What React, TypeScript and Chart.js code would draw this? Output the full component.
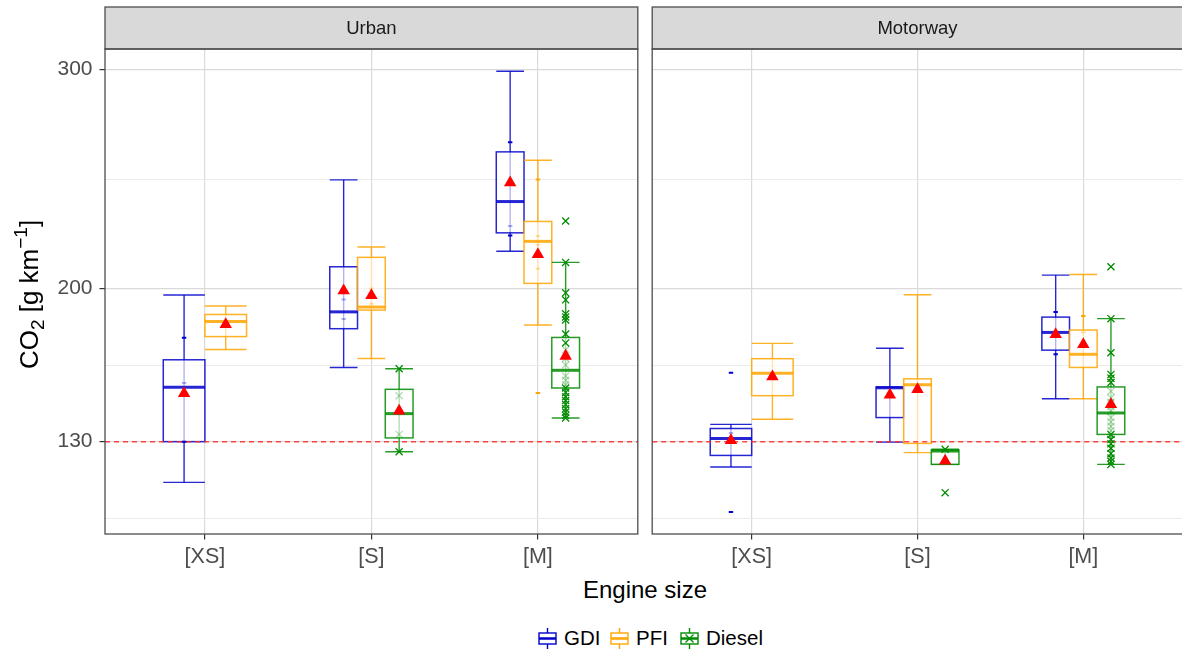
import React, { useEffect, useRef } from 'react';
import { Chart, registerables } from 'chart.js';

Chart.register(...registerables);

const FONT = "'Liberation Sans', Arial, sans-serif";

const categories = ['[XS]', '[S]', '[M]'];
const fuels = ['GDI', 'PFI', 'Diesel'];
const fuelColors = ['rgb(0,0,205)', 'rgb(255,165,0)', 'rgb(0,139,0)'];
const fuelFaintColors = ['rgba(0,0,205,0.3)', 'rgba(255,165,0,0.35)', 'rgba(0,139,0,0.3)'];
const facets = ['Urban', 'Motorway'];
const yMajorTicks = [130, 200, 300];
const yMinorTicks = [95, 165, 250];
const yRange = [87.8, 309.4];
const referenceLine = 130;

// five-number summaries: [lower whisker, Q1, median, Q3, upper whisker] per engine size
const urbanGDI = [[111.4, 130, 154.8, 167.4, 197.0], [163.9, 181.6, 189.3, 209.9, 249.6], [217, 225.4, 239.7, 262.4, 299.2]];
const urbanPFI = [[172.1, 178, 184.9, 188.1, 192], [168, 190.1, 191.5, 214.2, 218.9], [183.3, 202.3, 221.5, 230.6, 258.6]];
const urbanDiesel = [null, [125.4, 131.7, 142.8, 153.9, 163.3], [140.8, 154.5, 162.6, 177.6, 211.9]];
const urbanGDIMean = [152, 199, 248.3];
const urbanPFIMean = [183.6, 196.8, 215.5];
const urbanDieselMean = [null, 144, 169.1];
const urbanGDIPoints = [[177.5, 130], [], [266.8, 224.2]];
const urbanPFIPoints = [[], [], [249.8, 152.2]];
const urbanDieselPoints = [[], [163.3, 125.4], [230.8, 211.9, 198, 194.8, 188.4, 187, 185.6, 179.2, 175.1, 154.5, 152.5, 150.5, 148.8, 147, 145, 143.5, 142, 140.8]];
const urbanGDIFaint = [[156.8], [195, 186], [248, 228.5]];
const urbanPFIFaint = [[], [200, 193], [224, 220, 209]];
const urbanDieselFaint = [[], [151, 133.3], [172, 168, 165, 160, 158, 156]];

const motorwayGDI = [[118.4, 123.7, 131.4, 136, 137.9], [129.8, 141, 154.6, 155, 172.7], [149.6, 171.8, 179.9, 186.9, 206.1]];
const motorwayPFI = [[140.2, 151, 161.3, 167.9, 174.9], [125, 129.2, 156, 158.7, 197.1], [149.6, 163.9, 169.9, 181, 206.4]];
const motorwayDiesel = [null, [119.6, 119.6, 125.7, 126.2, 126.5], [119.6, 133.3, 143.1, 155, 186.2]];
const motorwayGDIMean = [130.6, 151.3, 179];
const motorwayPFIMean = [159.7, 153.9, 174.4];
const motorwayDieselMean = [null, 121.2, 147];
const motorwayGDIPoints = [[161.5, 97.9], [], [189.2, 169.9]];
const motorwayPFIPoints = [[], [], [187.4]];
const motorwayDieselPoints = [[], [126.5, 106.7], [209.9, 186.2, 170.6, 160.7, 159, 157, 133.3, 131, 129, 127, 124.5, 122.5, 121, 119.6]];
const motorwayGDIFaint = [[134], [], []];
const motorwayPFIFaint = [[], [], [180, 170]];
const motorwayDieselFaint = [[], [], [153, 150, 148, 146, 144, 141, 139, 137, 135]];

type Summary = number[] | null;

interface PanelSpec {
  title: string;
  summaries: Summary[][];
  means: (number | null)[][];
  points: number[][][];
  faint: number[][][];
  showYAxis: boolean;
}

const specs: PanelSpec[] = [
  {
    title: facets[0],
    summaries: [urbanGDI, urbanPFI, urbanDiesel],
    means: [urbanGDIMean, urbanPFIMean, urbanDieselMean],
    points: [urbanGDIPoints, urbanPFIPoints, urbanDieselPoints],
    faint: [urbanGDIFaint, urbanPFIFaint, urbanDieselFaint],
    showYAxis: true,
  },
  {
    title: facets[1],
    summaries: [motorwayGDI, motorwayPFI, motorwayDiesel],
    means: [motorwayGDIMean, motorwayPFIMean, motorwayDieselMean],
    points: [motorwayGDIPoints, motorwayPFIPoints, motorwayDieselPoints],
    faint: [motorwayGDIFaint, motorwayPFIFaint, motorwayDieselFaint],
    showYAxis: false,
  },
];

function dodge(summaries: Summary[][], c: number, f: number) {
  const present = summaries.map((s, i) => (s[c] ? i : -1)).filter((i) => i >= 0);
  const n = present.length;
  const k = present.indexOf(f);
  const w = 0.5 / n;
  return { off: (k - (n - 1) / 2) * w, w };
}

const isMajor = (v: number) => yMajorTicks.includes(v);

function makePlugin(spec: PanelSpec) {
  return {
    id: 'boxpanel',
    beforeDatasetsDraw(chart: any) {
      const { ctx, chartArea, scales } = chart;
      const xs = scales.x;
      const ys = scales.y;
      ctx.save();
      spec.summaries.forEach((arr, f) => {
        arr.forEach((s, c) => {
          if (!s) return;
          const { off, w } = dodge(spec.summaries, c, f);
          const cx = xs.getPixelForValue(c + 1 + off);
          const half = (xs.getPixelForValue(w) - xs.getPixelForValue(0)) / 2;
          const [lo, q1, med, q3, hi] = s.map((v) => ys.getPixelForValue(v));
          const col = fuelColors[f];
          ctx.globalAlpha = 0.85;
          ctx.strokeStyle = col;
          ctx.lineWidth = 1.4;
          ctx.beginPath();
          ctx.moveTo(cx, lo);
          ctx.lineTo(cx, hi);
          ctx.stroke();
          ctx.beginPath();
          ctx.moveTo(cx - half, lo);
          ctx.lineTo(cx + half, lo);
          ctx.moveTo(cx - half, hi);
          ctx.lineTo(cx + half, hi);
          ctx.stroke();
          ctx.globalAlpha = 1;
          ctx.fillStyle = 'rgba(255,255,255,0.65)';
          ctx.fillRect(cx - half, q3, half * 2, q1 - q3);
          ctx.globalAlpha = 0.85;
          ctx.lineWidth = 1.5;
          ctx.strokeRect(cx - half, q3, half * 2, q1 - q3);
          ctx.lineWidth = 3;
          ctx.beginPath();
          ctx.moveTo(cx - half, med);
          ctx.lineTo(cx + half, med);
          ctx.stroke();
        });
      });
      ctx.globalAlpha = 1;
      const ry = ys.getPixelForValue(referenceLine);
      ctx.strokeStyle = 'rgba(255,40,40,0.85)';
      ctx.lineWidth = 1.5;
      ctx.setLineDash([5, 4]);
      ctx.beginPath();
      ctx.moveTo(chartArea.left, ry);
      ctx.lineTo(chartArea.right, ry);
      ctx.stroke();
      ctx.restore();
    },
    afterDraw(chart: any) {
      const { ctx, chartArea } = chart;
      ctx.save();
      const stripTop = 7;
      ctx.fillStyle = '#D9D9D9';
      ctx.fillRect(chartArea.left, stripTop, chartArea.right - chartArea.left, chartArea.top - stripTop);
      ctx.strokeStyle = '#4D4D4D';
      ctx.lineWidth = 1.3;
      ctx.strokeRect(chartArea.left, stripTop, chartArea.right - chartArea.left, chartArea.top - stripTop);
      ctx.fillStyle = '#1A1A1A';
      ctx.font = `18.5px ${FONT}`;
      ctx.textAlign = 'center';
      ctx.textBaseline = 'middle';
      ctx.fillText(spec.title, (chartArea.left + chartArea.right) / 2, (stripTop + chartArea.top) / 2 + 1);
      ctx.strokeRect(chartArea.left, chartArea.top, chartArea.right - chartArea.left, chartArea.bottom - chartArea.top);
      if (spec.showYAxis) {
        const parts = [
          { t: 'CO', s: 26, dy: 0 },
          { t: '2', s: 19, dy: 6 },
          { t: ' [g km', s: 26, dy: 0 },
          { t: '\u22121', s: 19, dy: -11 },
          { t: ']', s: 26, dy: 0 },
        ];
        let total = 0;
        const widths = parts.map((p) => {
          ctx.font = `${p.s}px ${FONT}`;
          const w = ctx.measureText(p.t).width;
          total += w;
          return w;
        });
        ctx.translate(29, (chartArea.top + chartArea.bottom) / 2 + 3);
        ctx.rotate(-Math.PI / 2);
        ctx.fillStyle = '#000';
        ctx.textAlign = 'left';
        ctx.textBaseline = 'alphabetic';
        let x = -total / 2;
        parts.forEach((p, i) => {
          ctx.font = `${p.s}px ${FONT}`;
          ctx.fillText(p.t, x, 9 + p.dy);
          x += widths[i];
        });
      }
      ctx.restore();
    },
  };
}

function buildDatasets(spec: PanelSpec) {
  const datasets: any[] = [];
  const means: any[] = [];
  spec.means.forEach((arr, f) => {
    arr.forEach((m, c) => {
      if (m == null || !spec.summaries[f][c]) return;
      const { off } = dodge(spec.summaries, c, f);
      means.push({ x: c + 1 + off, y: m });
    });
  });
  datasets.push({
    label: 'mean',
    data: means,
    pointStyle: 'triangle',
    radius: 7.2,
    backgroundColor: 'rgb(255,0,0)',
    borderColor: 'rgb(255,0,0)',
    borderWidth: 0,
  });
  const addPoints = (src: number[][][], faint: boolean) => {
    src.forEach((byCat, f) => {
      const data: any[] = [];
      byCat.forEach((vals, c) => {
        if (!spec.summaries[f][c]) return;
        const { off } = dodge(spec.summaries, c, f);
        vals.forEach((v) => data.push({ x: c + 1 + off, y: v }));
      });
      const col = faint ? fuelFaintColors[f] : fuelColors[f];
      const isX = f === 2;
      datasets.push({
        label: fuels[f] + (faint ? ' faint' : ''),
        data,
        pointStyle: isX ? 'crossRot' : 'line',
        radius: isX ? 5 : 2.2,
        borderWidth: isX ? 1.3 : 2,
        borderColor: col,
        backgroundColor: col,
      });
    });
  };
  addPoints(spec.points, false);
  addPoints(spec.faint, true);
  return datasets;
}

function makeChart(canvas: HTMLCanvasElement, spec: PanelSpec) {
  const left = spec.showYAxis;
  return new Chart(canvas, {
    type: 'scatter',
    data: { datasets: buildDatasets(spec) },
    plugins: [makePlugin(spec)],
    options: {
      responsive: false,
      animation: false,
      events: [],
      layout: {
        padding: left ? { top: 49, right: 6, left: 0, bottom: 0 } : { top: 49, right: 5, left: 7, bottom: 0 },
      },
      plugins: {
        legend: { display: false },
        tooltip: { enabled: false },
        title: { display: false },
      },
      scales: {
        x: {
          type: 'linear',
          min: 0.4,
          max: 3.6,
          afterBuildTicks: (axis: any) => {
            axis.ticks = [1, 2, 3].map((v) => ({ value: v }));
          },
          afterFit: (axis: any) => {
            axis.height = 41;
          },
          border: { display: false },
          grid: {
            color: '#DADADA',
            lineWidth: 1.2,
            tickLength: 5.5,
            tickColor: '#333333',
            tickWidth: 1.2,
          },
          ticks: {
            autoSkip: false,
            maxRotation: 0,
            padding: 5,
            color: '#4D4D4D',
            font: { family: FONT, size: 21.5 },
            callback: (v: any) => categories[Number(v) - 1] ?? '',
          },
        },
        y: {
          type: 'linear',
          min: yRange[0],
          max: yRange[1],
          afterBuildTicks: (axis: any) => {
            axis.ticks = [...yMinorTicks, ...yMajorTicks].sort((a, b) => a - b).map((v) => ({ value: v }));
          },
          afterFit: (axis: any) => {
            axis.width = left ? 105 : 0;
          },
          border: { display: false },
          grid: {
            color: (ctx: any) => (ctx.tick && isMajor(ctx.tick.value) ? '#DADADA' : '#EBEBEB'),
            lineWidth: (ctx: any) => (ctx.tick && isMajor(ctx.tick.value) ? 1.2 : 1),
            drawTicks: left,
            tickLength: 5.5,
            tickColor: (ctx: any) => (ctx.tick && isMajor(ctx.tick.value) ? '#333333' : 'rgba(0,0,0,0)'),
            tickWidth: 1.2,
          },
          ticks: {
            display: left,
            autoSkip: false,
            padding: 7,
            color: '#4D4D4D',
            font: { family: FONT, size: 21 },
            callback: (v: any) => (isMajor(Number(v)) ? String(v) : ''),
          },
        },
      },
    } as any,
  });
}

function LegendKey({ color, cross }: { color: string; cross: boolean }) {
  return (
    <svg width={21} height={21} style={{ display: 'block' }}>
      <line x1={10.5} y1={0} x2={10.5} y2={5} stroke={color} strokeWidth={1.4} />
      <line x1={10.5} y1={16} x2={10.5} y2={21} stroke={color} strokeWidth={1.4} />
      <rect x={2} y={5} width={17} height={11} fill="white" stroke={color} strokeWidth={1.4} />
      <line x1={2} y1={10.5} x2={19} y2={10.5} stroke={color} strokeWidth={2.5} />
      {cross ? (
        <g stroke={color} strokeWidth={1.2}>
          <line x1={6.5} y1={6.5} x2={14.5} y2={14.5} />
          <line x1={14.5} y1={6.5} x2={6.5} y2={14.5} />
        </g>
      ) : null}
    </svg>
  );
}

export default function App() {
  const refA = useRef<HTMLCanvasElement>(null);
  const refB = useRef<HTMLCanvasElement>(null);

  useEffect(() => {
    document.body.style.margin = '0';
    const a = makeChart(refA.current!, specs[0]);
    const b = makeChart(refB.current!, specs[1]);
    return () => {
      a.destroy();
      b.destroy();
    };
  }, []);

  const legendLefts = [537, 609, 679];

  return (
    <div
      style={{
        position: 'relative',
        width: 1182,
        height: 654,
        overflow: 'hidden',
        background: '#fff',
        fontFamily: FONT,
      }}
    >
      <canvas ref={refA} width={645} height={575} style={{ position: 'absolute', left: 0, top: 0, width: 645, height: 575 }} />
      <canvas ref={refB} width={545} height={575} style={{ position: 'absolute', left: 645, top: 0, width: 545, height: 575 }} />
      <div
        style={{
          position: 'absolute',
          left: 445,
          width: 400,
          top: 576,
          textAlign: 'center',
          fontSize: 24,
          lineHeight: '28px',
          color: '#000',
        }}
      >
        Engine size
      </div>
      {fuels.map((f, i) => (
        <div
          key={f}
          style={{ position: 'absolute', left: legendLefts[i], top: 627, height: 22, display: 'flex', alignItems: 'center' }}
        >
          <LegendKey color={fuelColors[i]} cross={i === 2} />
          <span style={{ marginLeft: 6, fontSize: 20.5, lineHeight: '22px', color: '#000' }}>{f}</span>
        </div>
      ))}
    </div>
  );
}
